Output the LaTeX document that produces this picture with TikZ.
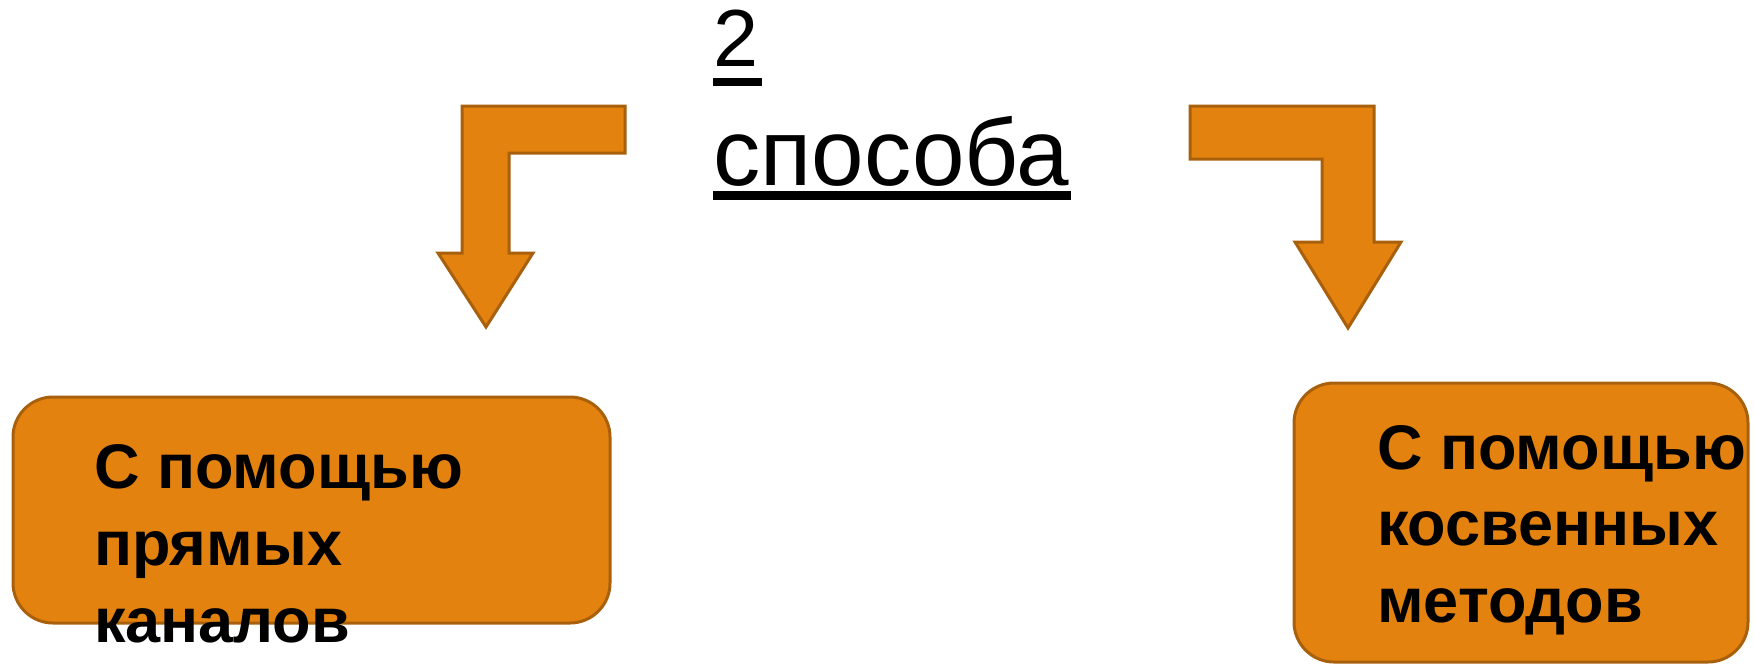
\documentclass[tikz,border=0pt]{standalone}
\usepackage{fontspec}
\setmainfont{Liberation Sans}
\definecolor{orfill}{HTML}{E4820F}
\definecolor{ordraw}{HTML}{A8600D}
\tikzset{
  shapeor/.style={fill=orfill, draw=ordraw, line width=3pt, line join=miter},
  boxor/.style={shapeor, rectangle, rounded corners=40pt, inner sep=0pt},
  boxtext/.style={inner sep=0pt, align=left, anchor=base west, font=\fontsize{63}{77}\selectfont\bfseries},
  titletext/.style={inner sep=0pt, anchor=base west},
  uline/.style={draw=black, line cap=butt}
}
\begin{document}
\begin{tikzpicture}[x=1pt,y=-1pt]
\useasboundingbox (0,0) rectangle (1755,665);
% title
\node[titletext, font=\fontsize{81}{90}\selectfont] (two) at (713,66.7) {2};
\node[titletext, font=\fontsize{94.4}{100}\selectfont] (ways) at (713,185) {способа};
\draw[uline, line width=8pt] ([yshift=-15pt]two.base west) -- ([yshift=-15pt,xshift=4pt]two.base east);
\draw[uline, line width=9.5pt] ([yshift=-10.7pt]ways.base west) -- ([yshift=-10.7pt,xshift=2pt]ways.base east);
% bent arrows
\draw[shapeor] (462,106) -- (625,106) -- (625,153) -- (509,153) -- (509,253) -- (533,253)
  -- (486,327) -- (438,253) -- (462,253) -- cycle;
\draw[shapeor] (1190,106) -- (1374,106) -- (1374,242) -- (1401,242) -- (1348,328)
  -- (1295,242) -- (1322,242) -- (1322,159) -- (1190,159) -- cycle;
% boxes
\node[boxor, minimum width=597pt, minimum height=226pt] (leftbox) at (311.5,510) {};
\node[boxor, minimum width=454pt, minimum height=279pt] (rightbox) at (1521,522.5) {};
\node[boxtext] (lefttext) at (94,642) {С помощью\\прямых\\каналов};
\node[boxtext, font=\fontsize{63}{76.5}\selectfont\bfseries] (righttext) at (1377,622) {С помощью\\косвенных\\методов};
\end{tikzpicture}
\end{document}
